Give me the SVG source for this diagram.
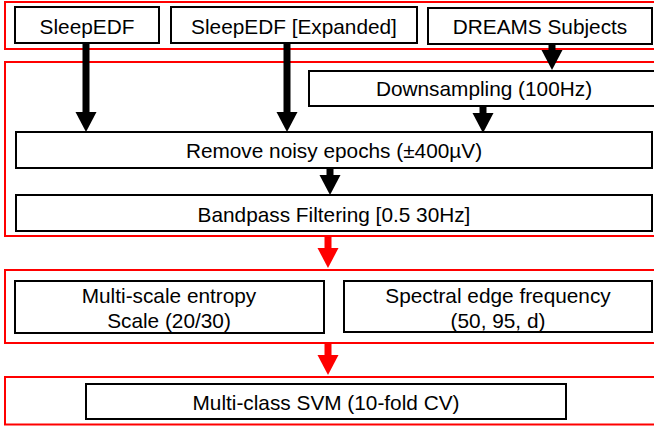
<svg xmlns="http://www.w3.org/2000/svg" width="654" height="426" viewBox="0 0 654 426">
<defs>
<style>
.stage{fill:none;stroke:#ff0000;stroke-width:2}
.box{fill:#ffffff;stroke:#000000;stroke-width:2}
.lbl{font-family:"Liberation Sans",Arial,Helvetica,sans-serif;font-size:20.8px;fill:#000000;text-anchor:middle}
.blk{stroke:#000000;stroke-width:7;fill:none}
.red{stroke:#ff0000;stroke-width:7;fill:none}
</style>
<marker id="hb" markerUnits="userSpaceOnUse" markerWidth="22" markerHeight="24" viewBox="0 -12 22 24" refX="0" refY="0" orient="auto">
<path d="M0,-10.5 L20,0 L0,10.5 z" fill="#000000"/>
</marker>
<marker id="hr" markerUnits="userSpaceOnUse" markerWidth="22" markerHeight="24" viewBox="0 -12 22 24" refX="0" refY="0" orient="auto">
<path d="M0,-10.5 L20,0 L0,10.5 z" fill="#ff0000"/>
</marker>
</defs>
<rect width="654" height="426" fill="#ffffff"/>
<g id="stages">
<rect class="stage" x="5" y="2" width="660" height="47"/>
<rect class="stage" x="5" y="62" width="660" height="174"/>
<rect class="stage" x="5" y="270" width="660" height="73"/>
<rect class="stage" x="5" y="377" width="660" height="47.5"/>
</g>
<g id="node-sleepedf">
<rect class="box" x="15" y="7" width="144" height="36"/>
<text class="lbl" x="87" y="34">SleepEDF</text>
</g>
<g id="node-sleepedf-expanded">
<rect class="box" x="171" y="7" width="246" height="36"/>
<text class="lbl" x="294" y="34">SleepEDF [Expanded]</text>
</g>
<g id="node-dreams">
<rect class="box" x="428" y="8" width="224" height="36"/>
<text class="lbl" x="540" y="34">DREAMS Subjects</text>
</g>
<g id="node-downsampling">
<rect class="box" x="309" y="71" width="360" height="35"/>
<text class="lbl" x="484" y="96">Downsampling (100Hz)</text>
</g>
<g id="node-remove">
<rect class="box" x="16" y="132" width="636" height="36"/>
<text class="lbl" x="334" y="158">Remove noisy epochs (±400µV)</text>
</g>
<g id="node-bandpass">
<rect class="box" x="16" y="195" width="636" height="36"/>
<text class="lbl" x="334" y="222">Bandpass Filtering [0.5 30Hz]</text>
</g>
<g id="node-mse">
<rect class="box" x="15" y="281" width="309" height="52"/>
<text class="lbl" x="169" y="303">Multi-scale entropy</text>
<text class="lbl" x="169" y="328">Scale (20/30)</text>
</g>
<g id="node-sef">
<rect class="box" x="344" y="281" width="308" height="51"/>
<text class="lbl" x="498" y="303">Spectral edge frequency</text>
<text class="lbl" x="498" y="328">(50, 95, d)</text>
</g>
<g id="node-svm">
<rect class="box" x="86" y="384" width="480" height="35"/>
<text class="lbl" x="326" y="410">Multi-class SVM (10-fold CV)</text>
</g>
<g id="connectors">
<line class="blk" x1="86" y1="43" x2="86" y2="112" marker-end="url(#hb)"/>
<line class="blk" x1="287" y1="43" x2="287" y2="112" marker-end="url(#hb)"/>
<line class="blk" x1="552" y1="44" x2="552" y2="50" marker-end="url(#hb)"/>
<line class="blk" x1="483" y1="106" x2="483" y2="113" marker-end="url(#hb)"/>
<line class="blk" x1="330" y1="168" x2="330" y2="175" marker-end="url(#hb)"/>
<line class="red" x1="328" y1="236" x2="328" y2="248" marker-end="url(#hr)"/>
<line class="red" x1="328" y1="343" x2="328" y2="355" marker-end="url(#hr)"/>
</g>
</svg>
